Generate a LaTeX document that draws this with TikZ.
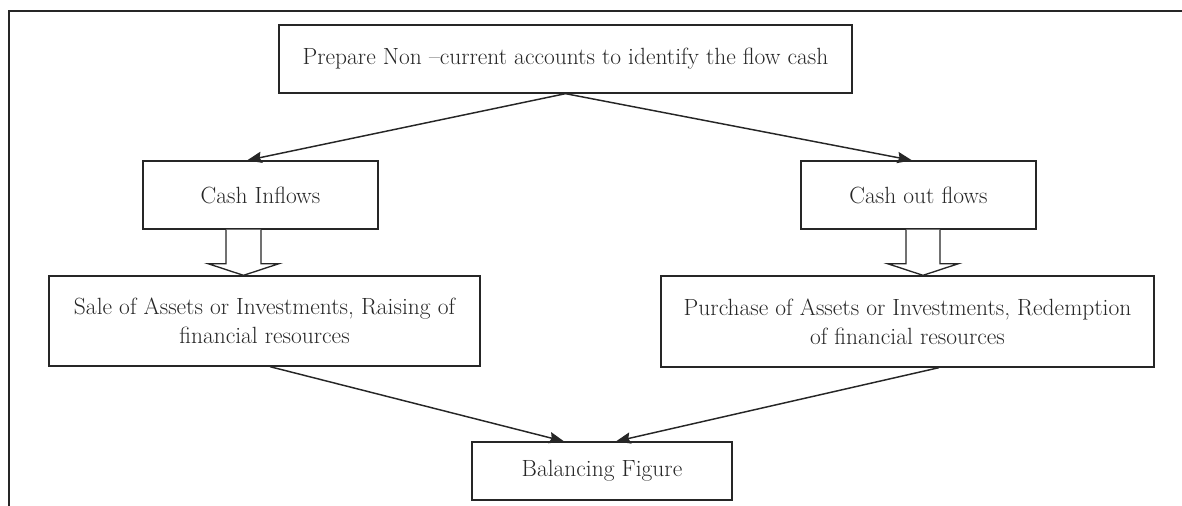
\documentclass[tikz,border=0pt]{standalone}
\usetikzlibrary{arrows.meta,calc}
\definecolor{ink}{HTML}{262626}
\begin{document}
\begin{tikzpicture}[x=0.75pt,y=-0.75pt,
  flowbox/.style={draw=ink,line width=1pt,rectangle,inner sep=0pt,align=center,
    text=ink,font=\fontsize{17.6}{22}\selectfont},
  link/.style={draw=ink,line width=1.1pt,-{Stealth[length=11pt,width=8.5pt,inset=1.5pt]}},
  hollow/.style={draw=ink,line width=1pt,fill=white,line join=miter}]
\useasboundingbox (0,0) rectangle (1182,506);
% page frame
\draw[ink,line width=1pt] (9,506) -- (9,11) -- (1182,11);

% boxes
\node[flowbox,minimum width=429.75pt,minimum height=51pt] (top) at (565.5,59)
  {Prepare Non --current accounts to identify the flow cash};
\node[flowbox,minimum width=176.25pt,minimum height=51pt] (inflow) at (260.5,195)
  {Cash Inflows};
\node[flowbox,minimum width=176.25pt,minimum height=51pt] (outflow) at (918.5,195)
  {Cash out flows};
\node[flowbox,minimum width=323.25pt,minimum height=67.5pt] (sale) at (264.5,321)
  {Sale of Assets or Investments, Raising of\\financial resources};
\node[flowbox,minimum width=369.75pt,minimum height=68.25pt] (purchase) at (907.5,321.5)
  {Purchase of Assets or Investments, Redemption\\of financial resources};
\node[flowbox,minimum width=195pt,minimum height=43.5pt] (balance) at (602,471)
  {Balancing Figure};

% thin arrows
\draw[link] (top.south) -- ([xshift=-10pt]inflow.north);
\draw[link] (top.south) -- ([xshift=-4.9pt]outflow.north);
\draw[link] ([xshift=4.1pt]sale.south) -- ([xshift=-28.5pt]balance.north);
\draw[link] ([xshift=23.6pt]purchase.south) -- ([xshift=10.5pt]balance.north);

% hollow block arrows
\coordinate (lc) at ($(inflow.south)+(-17,0)$);
\draw[hollow] ($(lc)+(-17.5,0)$) -- ($(lc)+(-17.5,34)$) -- ($(lc)+(-35.5,34)$)
  -- (lc |- sale.north) -- ($(lc)+(35.5,34)$) -- ($(lc)+(17.5,34)$) -- ($(lc)+(17.5,0)$);
\coordinate (rc) at ($(outflow.south)+(4.5,0)$);
\draw[hollow] ($(rc)+(-17,0)$) -- ($(rc)+(-17,34)$) -- ($(rc)+(-35.5,34)$)
  -- (rc |- purchase.north) -- ($(rc)+(35.5,34)$) -- ($(rc)+(17,34)$) -- ($(rc)+(17,0)$);
\end{tikzpicture}
\end{document}
